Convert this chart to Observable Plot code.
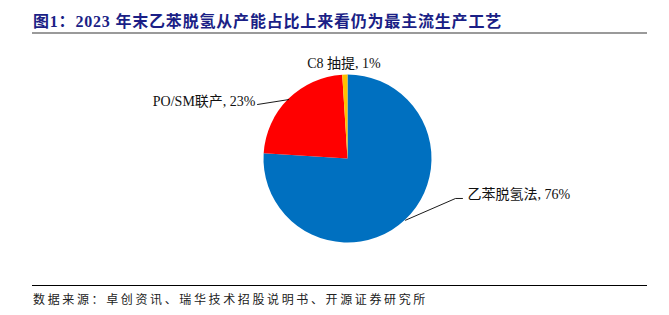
<!DOCTYPE html>
<html>
<head>
<meta charset="utf-8">
<script src="https://cdn.jsdelivr.net/npm/d3@7"></script>
<script src="https://cdn.jsdelivr.net/npm/@observablehq/plot@0.6"></script>
<style>
  html, body { margin: 0; padding: 0; background: #fff; }
  #wrap { position: relative; width: 669px; height: 315px; overflow: hidden; }
  #chart { position: absolute; left: 0; top: 0; }
  #title { position: absolute; left: 33px; top: 12px; line-height: 20px; font-size: 16px; font-weight: bold;
           color: #1b1f86; font-family: "Liberation Serif", "Noto Sans CJK SC", serif; letter-spacing: 1.7px; white-space: nowrap; }
  #tline { position: absolute; left: 32px; top: 32px; width: 615px; height: 2px; background: #9a9a9a; }
  #fline { position: absolute; left: 32px; top: 285px; width: 615px; height: 1px; background: #000; }
  #foot { position: absolute; left: 33px; top: 291px; line-height: 16px; font-size: 12px; color: #222;
          font-family: "Noto Sans CJK SC", sans-serif; letter-spacing: 2px; white-space: nowrap; }
</style>
</head>
<body>
<div id="wrap">
  <div id="chart"></div>
  <div id="title">图1：2023 年末乙苯脱氢从产能占比上来看仍为最主流生产工艺</div>
  <div id="tline"></div>
  <div id="fline"></div>
  <div id="foot">数据来源：卓创资讯、瑞华技术招股说明书、开源证券研究所</div>
</div>
<script>
// ---- data ----
const categories = ["乙苯脱氢法", "PO/SM联产", "C8 抽提"];
const shares = [76, 23, 1];
const colors = ["#0070C0", "#FF0000", "#FFC000"];

// ---- layout (label placement in radius units) ----
const labelLayout = [
  { lx: 1.423, ly: -0.423, anchor: "start", elbow: [[1.28, -0.47], [1.363, -0.47]] },
  { lx: -1.101, ly: 0.685, anchor: "end", elbow: [[-1.077, 0.649]] },
  { lx: -0.048, ly: 1.137, anchor: "middle", elbow: [] }
];

const table = categories.map((c, i) => ({ category: c, share: shares[i], label: `${c}, ${shares[i]}%` }));
const arcs = d3.pie().sort(null).value(d => d.share)(table);

const labelRows = arcs.map((a, i) => ({ ...a.data, x: labelLayout[i].lx, y: labelLayout[i].ly, anchor: labelLayout[i].anchor }));
const leaderRows = [];
arcs.forEach((a, i) => {
  if (!labelLayout[i].elbow.length) return;
  const mid = (a.startAngle + a.endAngle) / 2;
  leaderRows.push({ category: a.data.category, x: Math.sin(mid), y: Math.cos(mid) });
  for (const [ex, ey] of labelLayout[i].elbow) leaderRows.push({ category: a.data.category, x: ex, y: ey });
});

const font = "'Liberation Serif', 'Noto Sans CJK SC', serif";

const plot = Plot.plot({
  width: 669,
  height: 315,
  margin: 0,
  x: { domain: [-1, 1], range: [263.5, 431.5], axis: null },
  y: { domain: [-1, 1], range: [242.5, 74.5], axis: null },
  color: { domain: categories, range: colors },
  style: { background: "transparent" },
  marks: [
    Plot.dot(arcs, {
      x: () => 0, y: () => 0, fill: d => d.data.category,
      render: (index, scales, values) => {
        const g = d3.create("svg:g");
        const r = scales.x(1) - scales.x(0);
        const arcGen = d3.arc().innerRadius(0).outerRadius(r);
        for (const i of index) {
          g.append("path")
            .attr("transform", `translate(${values.x[i]},${values.y[i]})`)
            .attr("d", arcGen(arcs[i]))
            .attr("fill", values.fill[i]);
        }
        return g.node();
      }
    }),
    Plot.line(leaderRows, { x: "x", y: "y", z: "category", stroke: "#000", strokeWidth: 0.9 }),
    ...["start", "end", "middle"].map(anchor =>
      Plot.text(labelRows.filter(d => d.anchor === anchor), {
        x: "x", y: "y", text: "label", textAnchor: anchor,
        fontSize: 14, fontFamily: font, fill: "#111"
      })
    )
  ]
});
document.getElementById("chart").appendChild(plot);

// fit header/footer text widths to the reference extents
function fit(id, target) {
  const el = document.getElementById(id);
  const n = el.textContent.length;
  const ls = parseFloat(getComputedStyle(el).letterSpacing) || 0;
  const w = el.getBoundingClientRect().width;
  el.style.letterSpacing = (ls + (target - w) / n) + "px";
}
fit("title", 469);
fit("foot", 395);
</script>
</body>
</html>
